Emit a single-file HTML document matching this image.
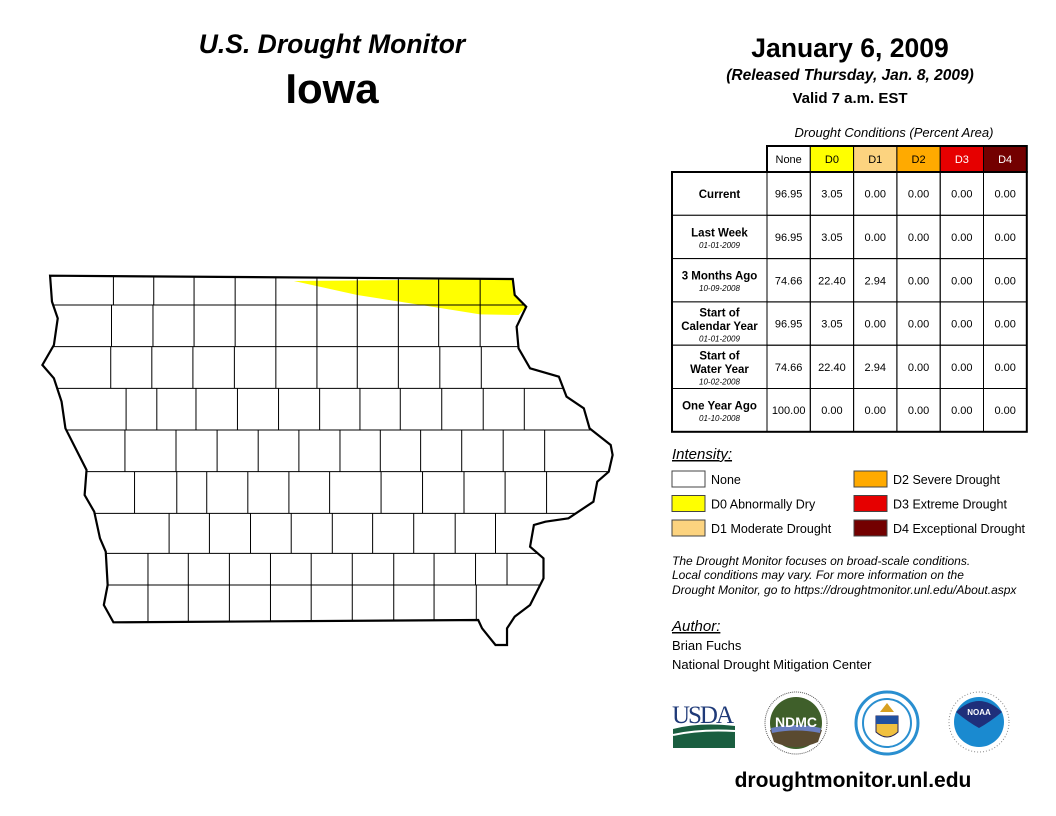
<!DOCTYPE html>
<html><head><meta charset="utf-8"><style>
body{margin:0;background:#fff}
svg{display:block;font-family:"Liberation Sans",Arial,sans-serif}
</style></head><body>
<svg id="s" width="1056" height="816" viewBox="0 0 1056 816">
<text x="332" y="53" text-anchor="middle" font-size="26.5" font-weight="bold" font-style="italic">U.S. Drought Monitor</text>
<text x="332" y="103" text-anchor="middle" font-size="42" font-weight="bold">Iowa</text>
<text x="850" y="57" text-anchor="middle" font-size="26.5" font-weight="bold">January 6, 2009</text>
<text x="850" y="80" text-anchor="middle" font-size="15.5" font-weight="bold" font-style="italic">(Released Thursday, Jan. 8, 2009)</text>
<text x="850" y="103" text-anchor="middle" font-size="15" font-weight="bold">Valid 7 a.m. EST</text>
<text x="894" y="137" text-anchor="middle" font-size="13" font-style="italic">Drought Conditions (Percent Area)</text>
<g id="map"></g>
<g id="table"></g>
<g id="legend"></g>
<text x="672" y="459" font-size="15" font-style="italic" text-decoration="underline">Intensity:</text>
<g font-size="12" font-style="italic">
<text x="672" y="565">The Drought Monitor focuses on broad-scale conditions.</text>
<text x="672" y="579">Local conditions may vary. For more information on the</text>
<text x="672" y="594">Drought Monitor, go to https://droughtmonitor.unl.edu/About.aspx</text>
</g>
<text x="672" y="631" font-size="15" font-style="italic" text-decoration="underline">Author:</text>
<text x="672" y="650" font-size="13">Brian Fuchs</text>
<text x="672" y="669" font-size="13">National Drought Mitigation Center</text>
<g>
<text x="672" y="723" font-size="25" font-family="Liberation Serif,serif" fill="#1f3a78" textLength="62">USDA</text>
<path d="M673 729 Q700 722 735 726 V748 H673Z" fill="#1a5e40"/>
<path d="M673 735 Q700 729 735 731" stroke="#fff" stroke-width="2" fill="none"/>
</g>
<g>
<circle cx="796" cy="723" r="31" fill="#fff" stroke="#555" stroke-width="1" stroke-dasharray="1 1"/>
<circle cx="796" cy="723" r="26" fill="#3f5f2a"/>
<path d="M770 730 Q796 725 822 730 L818 742 Q796 752 774 742Z" fill="#5a4a30"/>
<path d="M771 728 Q796 722 821 728 L820 733 Q796 728 772 733Z" fill="#6a7ec0"/>
<text x="796" y="727" text-anchor="middle" font-size="14" font-weight="bold" fill="#fff">NDMC</text>
</g>
<g>
<circle cx="887" cy="723" r="31" fill="#fff" stroke="#2a8fd0" stroke-width="3"/>
<circle cx="887" cy="723" r="24" fill="#fff" stroke="#2a8fd0" stroke-width="2"/>
<path d="M876 716 H898 V732 Q887 742 876 732Z" fill="#f0c040" stroke="#225" stroke-width="1"/>
<rect x="876" y="716" width="22" height="8" fill="#2050a0"/>
<path d="M880 712 L887 703 L894 712Z" fill="#d8a020"/>
</g>
<g>
<circle cx="979" cy="722" r="30" fill="#fff" stroke="#888" stroke-width="1" stroke-dasharray="1 2"/>
<circle cx="979" cy="722" r="25" fill="#1a8ad0"/>
<path d="M956 712 Q979 690 1002 712 Q990 722 979 728 Q968 722 956 712Z" fill="#1f2f7a"/>
<text x="979" y="715" text-anchor="middle" font-size="8" font-weight="bold" fill="#fff">NOAA</text>
</g>
<text x="853" y="787" text-anchor="middle" font-size="21" font-weight="bold">droughtmonitor.unl.edu</text>
</svg>
<script>
const NS="http://www.w3.org/2000/svg";
function mk(p,t,a){const e=document.createElementNS(NS,t);for(const k in a)e.setAttribute(k,a[k]);p.appendChild(e);return e;}
// ---- Map (coords in reference zoom space)
const outline=[[90,32],[1295,42],[1300,90],[1330,125],[1305,185],[1310,250],[1340,310],[1415,335],[1435,395],[1480,430],[1495,490],[1550,540],[1555,570],[1545,620],[1515,650],[1505,710],[1440,760],[1380,770],[1350,780],[1340,845],[1375,880],[1375,940],[1340,1020],[1300,1055],[1280,1090],[1280,1140],[1250,1140],[1215,1090],[1205,1065],[255,1072],[230,1020],[240,960],[235,860],[220,820],[205,740],[180,690],[185,615],[130,490],[120,410],[100,340],[70,300],[100,240],[110,160],[95,110]];
const d0Area=[[725,48],[1295,42],[1300,90],[1330,125],[1310,150],[1210,148],[1100,128],[890,90]];
const rowLines=[120,245,370,495,620,745,865,960];
const rowBands=[[32,120],[120,245],[245,370],[370,495],[495,620],[620,745],[745,865],[865,960],[960,1072]];
const bandCols=[[255,360,465,572,678,785,890,997,1102,1210],[250,358,465,572,678,785,890,997,1102,1210],[248,355,462,570,678,785,890,997,1105,1213],[288,368,470,578,685,792,897,1002,1110,1218,1325],[285,418,525,632,738,845,950,1055,1162,1270,1378],[310,420,498,605,712,818,952,1060,1168,1275,1383],[400,505,612,718,825,930,1037,1145,1250],[345,450,557,664,770,877,985,1090,1198,1280],[345,450,557,664,770,877,985,1090,1200]];
const X=v=>v*0.384+15.5,Y=v=>v/3+265;
const map=document.getElementById('map');
const pts=a=>a.map(p=>X(p[0])+','+Y(p[1])).join(' ');
const defs=mk(map,'defs',{});const cp=mk(defs,'clipPath',{id:'ia'});mk(cp,'polygon',{points:pts(outline)});
const fill=mk(map,'polygon',{points:pts(outline),fill:'#fff'});


const d0=mk(map,'polygon',{points:pts(d0Area),fill:'#ffff00','clip-path':'url(#ia)'});


const cl=mk(map,'g',{'clip-path':'url(#ia)',stroke:'#000','stroke-width':1});


rowLines.forEach(r=>mk(cl,'line',{x1:20,x2:660,y1:Y(r),y2:Y(r)}));
bandCols.forEach((cols,i)=>cols.forEach(c=>mk(cl,'line',{x1:X(c),x2:X(c),y1:Y(rowBands[i][0]),y2:Y(rowBands[i][1])})));
const ol=mk(map,'polygon',{points:pts(outline),fill:'none',stroke:'#000','stroke-width':2.2});


// ---- Table
const headers=['None','D0','D1','D2','D3','D4'];
const headFill=['#fff','#ffff00','#fcd37f','#ffaa00','#e60000','#730000'];
const headText=['#000','#000','#000','#000','#fff','#fff'];
const rowNames=['Current','Last Week','3 Months Ago','Start of|Calendar Year','Start of|Water Year','One Year Ago'];
const rowDates=['','01-01-2009','10-09-2008','01-01-2009','10-02-2008','01-10-2008'];
const values=[['96.95','3.05','0.00','0.00','0.00','0.00'],['96.95','3.05','0.00','0.00','0.00','0.00'],['74.66','22.40','2.94','0.00','0.00','0.00'],['96.95','3.05','0.00','0.00','0.00','0.00'],['74.66','22.40','2.94','0.00','0.00','0.00'],['100.00','0.00','0.00','0.00','0.00','0.00']];
const tb=document.getElementById('table');
const cx0=767,cw=43.3,hy=146,hh=26,ry=172,rh=43.3,lx=672;
headers.forEach((h,i)=>{const g=mk(tb,'g',{});


mk(g,'rect',{x:cx0+i*cw,y:hy,width:cw,height:hh,fill:headFill[i],stroke:'#000','stroke-width':1});
const t=mk(g,'text',{x:cx0+i*cw+cw/2,y:hy+17,'text-anchor':'middle','font-size':11,fill:headText[i]});t.textContent=h;});
rowNames.forEach((n,r)=>{const y=ry+r*rh;const g=mk(tb,'g',{});


mk(g,'rect',{x:lx,y:y,width:cx0-lx,height:rh,fill:'#fff',stroke:'#000','stroke-width':1});
const lines=n.split('|');const hasD=rowDates[r]!=='';
const tot=lines.length+(hasD?0.8:0);let ty=y+rh/2-(tot*13)/2+11;
lines.forEach(l=>{const t=mk(g,'text',{x:(lx+cx0)/2,y:ty,'text-anchor':'middle','font-size':11.5,'font-weight':'bold'});t.textContent=l;ty+=13.5;});
if(hasD){const t=mk(g,'text',{x:(lx+cx0)/2,y:ty-2,'text-anchor':'middle','font-size':8,'font-style':'italic'});t.textContent=rowDates[r];}
values[r].forEach((v,c)=>{mk(g,'rect',{x:cx0+c*cw,y:y,width:cw,height:rh,fill:'none',stroke:'#000','stroke-width':1});
const t=mk(g,'text',{x:cx0+c*cw+cw/2,y:y+rh/2+4,'text-anchor':'middle','font-size':11});t.textContent=v;});});
mk(tb,'rect',{x:lx,y:ry,width:cx0+6*cw-lx,height:6*rh,fill:'none',stroke:'#000','stroke-width':2});
mk(tb,'rect',{x:cx0,y:hy,width:6*cw,height:hh,fill:'none',stroke:'#000','stroke-width':2});
// ---- Legend
const legLabels=['None','D0 Abnormally Dry','D1 Moderate Drought','D2 Severe Drought','D3 Extreme Drought','D4 Exceptional Drought'];
const lg=document.getElementById('legend');
legLabels.forEach((l,i)=>{const col=Math.floor(i/3),row=i%3;const x=col?854:672,y=471+row*24.5;
const g=mk(lg,'g',{});


mk(g,'rect',{x:x,y:y,width:33,height:16,fill:headFill[i],stroke:'#444','stroke-width':1});
const t=mk(g,'text',{x:x+39,y:y+13,'font-size':12.5});t.textContent=l;});
</script>
</body></html>
